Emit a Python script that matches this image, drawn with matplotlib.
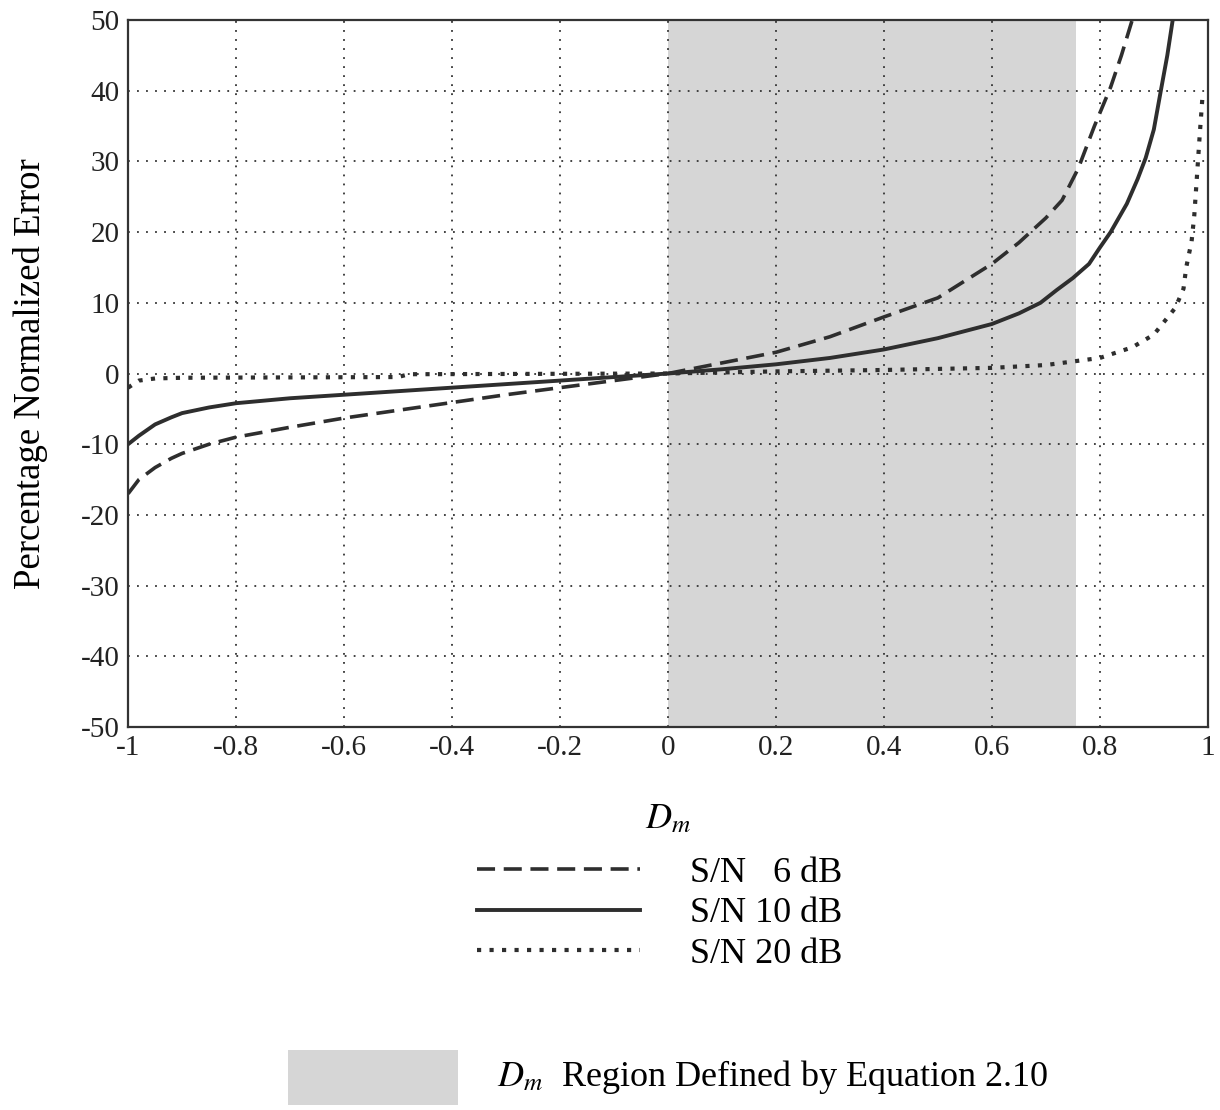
import numpy as np
import matplotlib
matplotlib.use("Agg")
import matplotlib.pyplot as plt
from matplotlib.patches import Rectangle

plt.rcParams['font.family'] = ['Liberation Serif', 'DejaVu Serif']
plt.rcParams['mathtext.fontset'] = 'stix'
plt.rcParams['axes.unicode_minus'] = False

# S/N 6 dB (dashed)
x_6db = [-1.0, -0.98, -0.95, -0.92, -0.9, -0.85, -0.8, -0.7, -0.6, -0.5, -0.4, -0.3,
         -0.2, -0.1, 0.0, 0.1, 0.2, 0.3, 0.4, 0.5, 0.6, 0.65, 0.7, 0.73, 0.76, 0.79,
         0.82, 0.84, 0.86]
y_6db = [-17.0, -15.0, -13.3, -12.0, -11.3, -10.0, -9.0, -7.6, -6.3, -5.2, -4.1, -3.0,
         -2.0, -1.0, 0.0, 1.5, 3.0, 5.2, 8.0, 10.7, 15.5, 18.5, 22.0, 24.5, 29.0, 35.0,
         40.5, 45.0, 50.0]

# S/N 10 dB (solid)
x_10db = [-1.0, -0.98, -0.95, -0.92, -0.9, -0.85, -0.8, -0.7, -0.6, -0.5, -0.4, -0.3,
          -0.2, -0.1, 0.0, 0.1, 0.2, 0.3, 0.4, 0.5, 0.6, 0.65, 0.69, 0.72, 0.75, 0.78,
          0.8, 0.82, 0.85, 0.87, 0.885, 0.9, 0.913, 0.925, 0.935]
y_10db = [-10.0, -8.8, -7.2, -6.2, -5.6, -4.8, -4.2, -3.5, -3.0, -2.5, -2.0, -1.5,
          -1.0, -0.5, 0.0, 0.6, 1.3, 2.2, 3.4, 5.0, 7.0, 8.5, 10.0, 11.8, 13.5, 15.5,
          17.8, 20.0, 24.0, 27.5, 30.5, 34.5, 40.0, 45.0, 50.0]

# S/N 20 dB (dotted)
x_20db = [-1.0, -0.98, -0.95, -0.9, -0.5, -0.48, 0.0, 0.2, 0.4, 0.6, 0.7, 0.8, 0.86,
          0.9, 0.92, 0.94, 0.955, 0.96, 0.97, 0.975, 0.98, 0.985, 0.99]
y_20db = [-2.0, -1.0, -0.7, -0.6, -0.5, -0.1, 0.0, 0.3, 0.5, 0.8, 1.2, 2.2, 3.7,
          5.5, 7.4, 9.3, 12.0, 15.0, 18.7, 22.4, 28.0, 33.7, 39.0]

labels = ['S/N   6 dB', 'S/N 10 dB', 'S/N 20 dB']
region = (0.0, 0.755)   # D_m region from Equation 2.10
region_label = r'$D_m$  Region Defined by Equation 2.10'

xticks = [-1, -0.8, -0.6, -0.4, -0.2, 0, 0.2, 0.4, 0.6, 0.8, 1]
xtick_labels = ['-1', '-0.8', '-0.6', '-0.4', '-0.2', '0', '0.2', '0.4', '0.6', '0.8', '1']
yticks = list(range(-50, 51, 10))

shade = '#d6d6d6'
ink = '#2e2e2e'

fig = plt.figure(figsize=(12.2, 11.1), dpi=100)
ax = fig.add_axes([0.105, 0.345, 0.885, 0.637])

ax.axvspan(region[0], region[1], color=shade, lw=0, zorder=0)

l6, = ax.plot(x_6db, y_6db, color=ink, lw=2.6, linestyle=(0, (5, 2.4)), zorder=3)
l10, = ax.plot(x_10db, y_10db, color=ink, lw=2.8, zorder=3)
l20, = ax.plot(x_20db, y_20db, color=ink, lw=3.0, linestyle=(0, (1, 2.0)), zorder=3)

ax.set_xlim(-1, 1)
ax.set_ylim(-50, 50)
ax.set_xticks(xticks)
ax.set_xticklabels(xtick_labels)
ax.set_yticks(yticks)
ax.tick_params(length=0, labelsize=21, pad=6, colors='#222222')
ax.grid(True, color='#333333', linestyle=(0, (1, 4)), lw=1.3)
for s in ax.spines.values():
    s.set_linewidth(1.6)
    s.set_color('#333333')

ax.set_xlabel(r'$D_m$', fontsize=26, labelpad=30)
ax.set_ylabel('Percentage Normalized Error', fontsize=26.5, labelpad=24)

fig.legend([l6, l10, l20], labels, loc='center', bbox_to_anchor=(0.541, 0.177),
           frameon=False, fontsize=26, handlelength=4.5, handletextpad=1.4,
           labelspacing=0.2)

fig.add_artist(Rectangle((288 / 1220, 1 - 1105 / 1110), 170 / 1220, 55 / 1110,
                         transform=fig.transFigure, color=shade, lw=0))
fig.text(497 / 1220, 1 - 1077 / 1110, region_label, fontsize=26, va='center', ha='left')

fig.savefig('out.png', dpi=100)
